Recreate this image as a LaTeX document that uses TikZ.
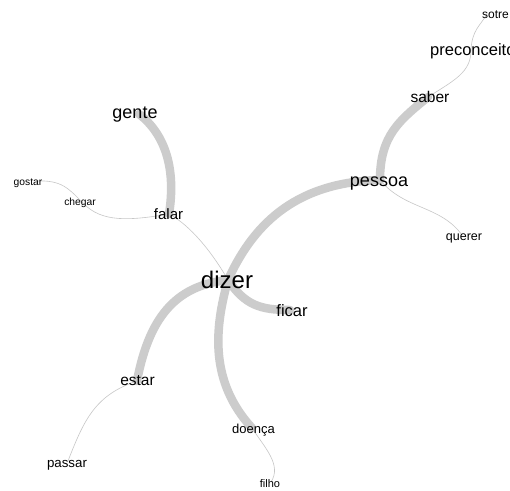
\documentclass[tikz,border=0pt]{standalone}
\usepackage{fontspec}
\setmainfont{Liberation Sans}
\begin{document}
\begin{tikzpicture}[x=1pt,y=-1pt,
  thick edge/.style={draw=black!20, line width=8.5pt, line cap=round},
  thin edge/.style={draw=black!22, line width=0.6pt},
  word/.style={inner sep=0pt, anchor=base, text=black},
]
\useasboundingbox[fill=white] (0,0) rectangle (510,490);
% hubs
\coordinate (dizer) at (228,280);
\coordinate (ficar) at (290,310);
\coordinate (pessoa) at (380,180);
\coordinate (saber) at (428,97);
\coordinate (preconceito) at (471,50);
\coordinate (sotre) at (487,14);
\coordinate (querer) at (462,235);
\coordinate (gente) at (139,114);
\coordinate (falar) at (169,214);
\coordinate (chegar) at (84,204);
\coordinate (gostar) at (36,181);
\coordinate (estar) at (137,381);
\coordinate (passar) at (68,461);
\coordinate (doenca) at (252,428);
\coordinate (filho) at (271,482);
% thin edges
\draw[thin edge] (falar) .. controls (190,225) and (212,252) .. (dizer);
\draw[thin edge] (falar) .. controls (128,221) and (102,222) .. (chegar);
\draw[thin edge] (chegar) .. controls (68,188) and (62,180) .. (gostar);
\draw[thin edge] (pessoa) .. controls (405,210) and (440,205) .. (querer);
\draw[thin edge] (saber) .. controls (455,80) and (471,72) .. (preconceito);
\draw[thin edge] (preconceito) .. controls (472,30) and (480,26) .. (sotre);
\draw[thin edge] (estar) .. controls (95,395) and (84,420) .. (passar);
\draw[thin edge] (doenca) .. controls (265,448) and (282,465) .. (filho);
% thick edges
\draw[thick edge] (dizer) .. controls (255,220) and (300,182) .. (pessoa);
\draw[thick edge] (dizer) .. controls (214,330) and (210,382) .. (doenca);
\draw[thick edge] (dizer) .. controls (245,305) and (260,310) .. (ficar);
\draw[thick edge] (dizer) .. controls (180,285) and (150,312) .. (estar);
\draw[thick edge] (pessoa) .. controls (380,135) and (400,120) .. (saber);
\draw[thick edge] (falar) .. controls (176,170) and (166,135) .. (gente);
% labels
\node[word, font=\fontsize{24}{24}\selectfont] (dizerL) at (227,288) {dizer};
\node[word, font=\fontsize{16.5}{17}\selectfont] (ficarL) at (292,316) {ficar};
\node[word, font=\fontsize{18}{18}\selectfont] (pessoaL) at (379,186) {pessoa};
\node[word, font=\fontsize{15.5}{16}\selectfont] (saberL) at (430,102) {saber};
\node[word, anchor=base west, font=\fontsize{16.5}{17}\selectfont] (preconceitoL) at (430,55) {preconceito};
\node[word, anchor=base west, font=\fontsize{12}{12}\selectfont] (sotreL) at (482,18) {sotre};
\node[word, font=\fontsize{12.5}{13}\selectfont] (quererL) at (464,240) {querer};
\node[word, font=\fontsize{18}{18}\selectfont] (genteL) at (135,118) {gente};
\node[word, font=\fontsize{15}{15}\selectfont] (falarL) at (168.5,219) {falar};
\node[word, font=\fontsize{10.3}{11}\selectfont] (chegarL) at (80,205.5) {chegar};
\node[word, font=\fontsize{10.3}{11}\selectfont] (gostarL) at (28,185.5) {gostar};
\node[word, font=\fontsize{15.5}{16}\selectfont] (estarL) at (137.5,385) {estar};
\node[word, font=\fontsize{13.3}{14}\selectfont] (passarL) at (67,467) {passar};
\node[word, font=\fontsize{13}{13}\selectfont] (doencaL) at (253.5,433) {doença};
\node[word, font=\fontsize{11}{11}\selectfont] (filhoL) at (270,487) {filho};
\end{tikzpicture}
\end{document}
